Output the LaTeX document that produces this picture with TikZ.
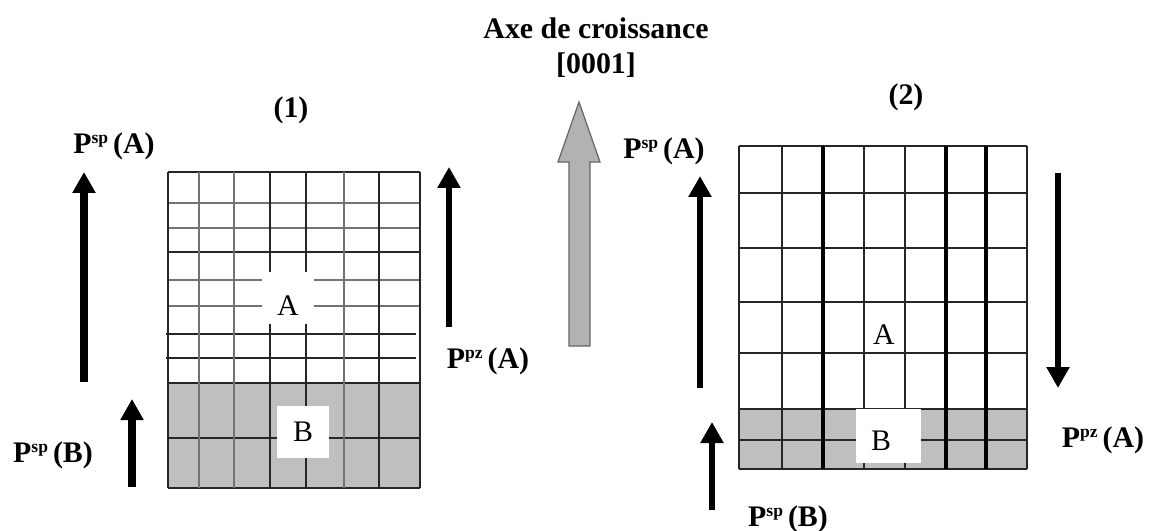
\documentclass[tikz,border=0pt]{standalone}
\usepackage{fontspec}
\setmainfont{Liberation Serif}
\usetikzlibrary{arrows.meta,calc,positioning}
\newcommand{\polar}[2]{P\raisebox{0.7ex}{\fontsize{10}{10}\selectfont #1}\,(#2)}

\begin{document}
\begin{tikzpicture}[
    x=0.02cm,y=-0.02cm,
    every node/.style={font=\fontsize{17}{20}\selectfont\bfseries,align=center,inner sep=0pt},
    plain/.style={font=\fontsize{17}{20}\selectfont},
    patch/.style={fill=white,minimum width=#1,minimum height=1.05cm},
    fine/.style={black!85,line width=0.8pt},
    pale/.style={black!55,line width=0.9pt},
    heavy/.style={black,line width=1.8pt},
    arrow/.style={-{Triangle[length=0.42cm,width=0.44cm]},line width=#1},
    arrow/.default=4.2pt
]
\useasboundingbox (0,0) rectangle (1150,531);

% left stack
\fill[black!25] (168,383) rectangle (420,488);
\foreach \yy in {203,228,280,306}
    \draw[pale] (168,\yy) -- (420,\yy);
\foreach \yy in {172,252,383,438,488}
    \draw[fine] (168,\yy) -- (420,\yy);
\foreach \yy in {334,358}
    \draw[fine] (166,\yy) -- (416,\yy);
\foreach \xx in {199,234,344}
    \draw[pale] (\xx,172) -- (\xx,488);
\foreach \xx in {168,270,306,379,420}
    \draw[fine] (\xx,172) -- (\xx,488);
\node[patch=1.06cm] (patchA) at (288,298) {};
\node[plain] (labA) at (288,306) {A};
\node[patch=1.06cm,plain] (labB) at (303,432) {B};

% right stack
\fill[black!25] (739,409) rectangle (1027,469);
\foreach \yy in {146,193,248,302,353,409,440,469}
    \draw[fine,line width=1pt] (739,\yy) -- (1027,\yy);
\foreach \xx in {739,782,864,905,1027}
    \draw[fine,line width=1pt] (\xx,146) -- (\xx,469);
\foreach \xx in {823,946,986}
    \draw[heavy] (\xx,146) -- (\xx,469);
\node[fill=white,minimum width=1.3cm,minimum height=1.08cm] (patchB) at (888.5,436) {};
\node[plain] (labAb) at (884,335) {A};
\node[plain] (labBb) at (881,441) {B};

% titles
\node (axe) at (596,28) {Axe de croissance};
\node[below=8pt of axe] (dir) {[0001]};
\node (one) at (291,110) {(1)};
\node (two) at (906,97) {(2)};

% labels
\node (spA) at (114,146) {\polar{sp}{A}};
\node (spB) at (53,455) {\polar{sp}{B}};
\node (pzA) at (488,361) {\polar{pz}{A}};
\node (spAb) at (664,151) {\polar{sp}{A}};
\node (pzAb) at (1103,440) {\polar{pz}{A}};
\node (spBb) at (788,519) {\polar{sp}{B}};

% arrows
\coordinate (a1) at (84,382);
\coordinate (a2) at (84,172);
\coordinate (b1) at (132,487);
\coordinate (b2) at (132,399);
\coordinate (c1) at (449,327);
\coordinate (c2) at (449,167);
\coordinate (d1) at (700,388);
\coordinate (d2) at (700,176);
\coordinate (e1) at (712,510);
\coordinate (e2) at (712,422);
\coordinate (f1) at (1058,173);
\coordinate (f2) at (1058,388);
\draw[arrow] (a1) -- (a2);
\draw[arrow] (b1) -- (b2);
\draw[arrow=3.8pt] (c1) -- (c2);
\draw[arrow=3.2pt] (d1) -- (d2);
\draw[arrow=3.2pt] (e1) -- (e2);
\draw[arrow=3.2pt] (f1) -- (f2);

% growth axis
\filldraw[draw=black!60,fill=black!30,line width=0.7pt] (569,346) -- (590,346) -- (590,162) -- (600,162) -- (579,102) -- (558,162) -- (569,162) -- cycle;
\end{tikzpicture}
\end{document}
